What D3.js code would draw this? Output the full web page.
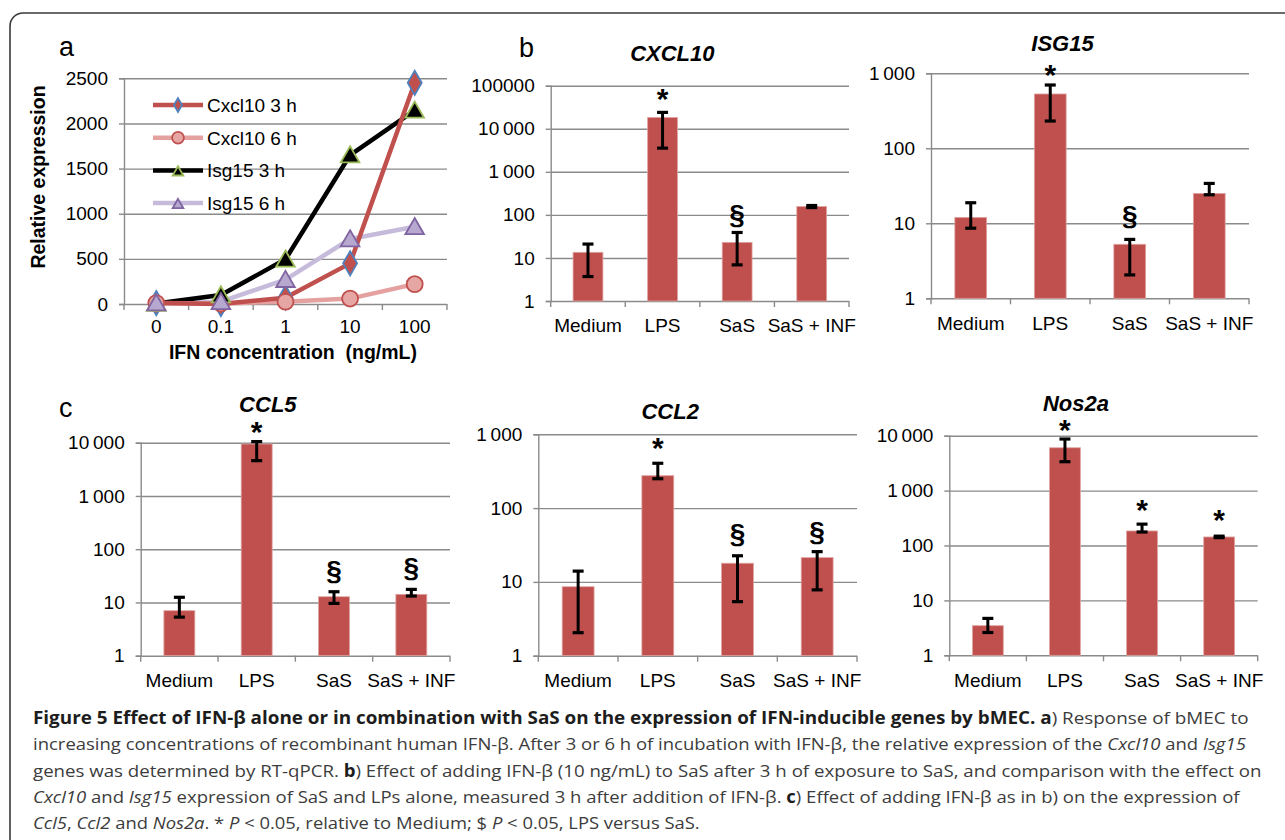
<!DOCTYPE html>
<html>
<head>
<meta charset="utf-8">
<script src="https://cdn.jsdelivr.net/npm/d3@7"></script>
<style>
  body { margin: 0; background: #fff; }
  svg text { font-family: "Liberation Sans", Arial, sans-serif; fill: #000; }
  .caption text { font-family: "Open Sans", "Noto Sans", sans-serif; }
</style>
</head>
<body>
<svg id="fig" width="1285" height="840"></svg>
<script>
// ---- panel a: relative expression vs IFN concentration
const doses = ["0", "0.1", "1", "10", "100"];
const cxcl10_3h = [10, 0, 70, 450, 2450];
const cxcl10_6h = [10, 5, 25, 60, 220];
const isg15_3h = [5, 100, 495, 1650, 2145];
const isg15_6h = [10, 25, 270, 720, 855];
const seriesNames = ["Cxcl10 3 h", "Cxcl10 6 h", "Isg15 3 h", "Isg15 6 h"];
const relTicks = [0, 500, 1000, 1500, 2000, 2500];

// ---- panels b and c: mean with low / high end of the error bar
const treatments = ["Medium", "LPS", "SaS", "SaS + INF"];

const cxcl10Mean = [13.5, 18300, 23, 156];
const cxcl10Lo = [3.7, 3550, 6.9, 148];
const cxcl10Hi = [21, 24000, 39, 165];
const cxcl10Sig = ["", "*", "§", ""];

const isg15Mean = [12, 530, 5.25, 25];
const isg15Lo = [8.6, 231, 2.05, 24];
const isg15Hi = [18.8, 698, 6.1, 34];
const isg15Sig = ["", "*", "§", ""];

const ccl5Mean = [7, 9450, 12.8, 14.2];
const ccl5Lo = [5.3, 4600, 9.6, 13.2];
const ccl5Hi = [12.5, 10500, 15.9, 17.6];
const ccl5Sig = ["", "*", "§", "§"];

const ccl2Mean = [8.6, 275, 17.9, 21.3];
const ccl2Lo = [2.05, 250, 5.4, 7.8];
const ccl2Hi = [14, 405, 22.6, 25.7];
const ccl2Sig = ["", "*", "§", "§"];

const nos2aMean = [3.46, 6030, 184, 143];
const nos2aLo = [2.6, 3360, 176, 139];
const nos2aHi = [4.7, 8700, 245, 148];
const nos2aSig = ["", "*", "*", "*"];

const ticks1e3 = [1, 10, 100, 1000];
const ticks1e4 = [1, 10, 100, 1000, 10000];
const ticks1e5 = [1, 10, 100, 1000, 10000, 100000];
const labels1e3 = ["1", "10", "100", "1\u2009000"];
const labels1e4 = ["1", "10", "100", "1\u2009000", "10\u2009000"];
const labels1e5 = ["1", "10", "100", "1\u2009000", "10\u2009000", "100000"];

const svg = d3.select("#fig");
const gridColor = "#8a8a8a";
const barColor = "#c0504d";

// frame round the figure
svg.append("rect")
  .attr("x", 10).attr("y", 13).attr("width", 1320).attr("height", 900)
  .attr("rx", 13).attr("fill", "none").attr("stroke", "#3a3a3a").attr("stroke-width", 1.6);

// ================= panel a =================
const a = { left: 124, right: 447, top: 78.3, bottom: 304 };
const ga = svg.append("g");
const xa = d3.scaleBand().domain(doses).range([a.left, a.right]);
const ya = d3.scaleLinear().domain([0, 2500]).range([a.bottom, a.top]);

ga.append("g")
  .attr("transform", `translate(${a.left},0)`)
  .call(d3.axisLeft(ya).tickValues(relTicks).tickSize(-(a.right - a.left)).tickFormat(""))
  .call(g => g.select(".domain").remove())
  .call(g => g.selectAll("line").attr("stroke", gridColor).attr("stroke-width", 1.4));

ga.append("g")
  .attr("transform", `translate(${a.left},0)`)
  .call(d3.axisLeft(ya).tickValues(relTicks).tickSize(5).tickPadding(11).tickFormat(d3.format("d")))
  .call(g => g.select(".domain").attr("stroke", gridColor).attr("stroke-width", 1.4))
  .call(g => g.selectAll("line").attr("stroke", gridColor).attr("stroke-width", 1.4))
  .call(g => g.selectAll("text").attr("font-size", 19).attr("font-family", "Liberation Sans, Arial"));

// x axis ticks at band edges
const aEdges = doses.map(d => xa(d)).concat([a.right]);
ga.selectAll(".xtick").data(aEdges).join("line")
  .attr("x1", d => d).attr("x2", d => d)
  .attr("y1", a.bottom).attr("y2", a.bottom + 6)
  .attr("stroke", gridColor).attr("stroke-width", 1.4);

ga.append("g")
  .attr("transform", `translate(0,${a.bottom})`)
  .call(d3.axisBottom(xa).tickSize(0).tickPadding(16))
  .call(g => g.select(".domain").remove())
  .call(g => g.selectAll("text").attr("font-size", 19).attr("font-family", "Liberation Sans, Arial"));

ga.append("text")
  .attr("transform", "translate(45,177) rotate(-90)")
  .attr("text-anchor", "middle").attr("font-size", 19.5).attr("font-weight", "bold")
  .text("Relative expression");

ga.append("text")
  .attr("x", 293).attr("y", 359)
  .attr("text-anchor", "middle").attr("font-size", 19.5).attr("font-weight", "bold")
  .attr("xml:space", "preserve")
  .text("IFN concentration  (ng/mL)");

ga.append("text").attr("x", 59).attr("y", 56).attr("font-size", 27).text("a");

const aSeries = [
  { name: seriesNames[0], values: cxcl10_3h, line: "#c0504d", fill: "#c0504d", edge: "#4f81bd", shape: "diamond" },
  { name: seriesNames[1], values: cxcl10_6h, line: "#e4a19f", fill: "#e6a6a4", edge: "#c0504d", shape: "circle" },
  { name: seriesNames[2], values: isg15_3h, line: "#000000", fill: "#000000", edge: "#9bbb59", shape: "triangle" },
  { name: seriesNames[3], values: isg15_6h, line: "#c6bbdb", fill: "#b7a8cf", edge: "#8064a2", shape: "triangle" }
];

const shapeOf = { diamond: d3.symbolDiamond, circle: d3.symbolCircle, triangle: d3.symbolTriangle };
const lineGen = d3.line()
  .x((d, i) => xa(doses[i]) + xa.bandwidth() / 2)
  .y(d => ya(d));

aSeries.slice().reverse().forEach(s => {
  ga.append("path").datum(s.values)
    .attr("d", lineGen).attr("fill", "none")
    .attr("stroke", s.line).attr("stroke-width", 4.5).attr("stroke-linejoin", "round");
});

function drawMarker(g, s, x, y, big) {
  let size = s.shape === "circle" ? (big ? 200 : 110) : s.shape === "diamond" ? (big ? 170 : 55) : (big ? 150 : 50);
  g.append("path")
    .attr("d", d3.symbol().type(shapeOf[s.shape]).size(size))
    .attr("transform", `translate(${x},${y + (s.shape === "triangle" ? 2 : 0)})`)
    .attr("fill", s.fill).attr("stroke", s.edge).attr("stroke-width", 1.8);
}

aSeries.forEach(s => {
  s.values.forEach((v, i) => drawMarker(ga, s, xa(doses[i]) + xa.bandwidth() / 2, ya(v), true));
});

// legend
const legTop = 105, legStep = 32.7;
aSeries.forEach((s, i) => {
  let ly = legTop + i * legStep;
  ga.append("line").attr("x1", 153).attr("x2", 203).attr("y1", ly).attr("y2", ly)
    .attr("stroke", s.line).attr("stroke-width", 4.5);
  drawMarker(ga, s, 178, ly, false);
  ga.append("text").attr("x", 207).attr("y", ly + 7).attr("font-size", 19).text(s.name);
});

// ================= bar panels =================
function barPanel(p) {
  const g = svg.append("g");
  const x = d3.scaleBand().domain(treatments).range([p.left, p.right]);
  const y = d3.scaleLog().domain([1, p.ticks[p.ticks.length - 1]]).range([p.bottom, p.top]);
  const bw = x.bandwidth() * 0.4;

  g.append("g")
    .attr("transform", `translate(${p.left},0)`)
    .call(d3.axisLeft(y).tickValues(p.ticks).tickSize(-(p.right - p.left)).tickFormat(""))
    .call(gg => gg.select(".domain").remove())
    .call(gg => gg.selectAll("line").attr("stroke", gridColor).attr("stroke-width", 1.4));

  g.append("g")
    .attr("transform", `translate(${p.left},0)`)
    .call(d3.axisLeft(y).tickValues(p.ticks).tickSize(5).tickPadding(11)
      .tickFormat((d, i) => p.labels[i]))
    .call(gg => gg.select(".domain").attr("stroke", gridColor).attr("stroke-width", 1.4))
    .call(gg => gg.selectAll("line").attr("stroke", gridColor).attr("stroke-width", 1.4))
    .call(gg => gg.selectAll("text").attr("font-size", 19).attr("font-family", "Liberation Sans, Arial"));

  const edges = treatments.map(d => x(d)).concat([p.right]);
  g.selectAll(".xtick").data(edges).join("line")
    .attr("x1", d => d).attr("x2", d => d)
    .attr("y1", p.bottom).attr("y2", p.bottom + 6)
    .attr("stroke", gridColor).attr("stroke-width", 1.4);

  g.append("g")
    .attr("transform", `translate(0,${p.bottom})`)
    .call(d3.axisBottom(x).tickSize(0).tickPadding(18))
    .call(gg => gg.select(".domain").remove())
    .call(gg => gg.selectAll("text").attr("font-size", 19).attr("font-family", "Liberation Sans, Arial"));

  g.selectAll(".bar").data(p.mean).join("rect")
    .attr("x", (d, i) => x(treatments[i]) + (x.bandwidth() - bw) / 2)
    .attr("width", bw)
    .attr("y", d => y(d))
    .attr("height", d => p.bottom - y(d))
    .attr("fill", barColor).attr("stroke", "#dfa3a1").attr("stroke-width", 0.8);

  p.mean.forEach((m, i) => {
    let cx = x(treatments[i]) + x.bandwidth() / 2;
    let y1 = y(p.hi[i]), y2 = y(p.lo[i]);
    g.append("line").attr("x1", cx).attr("x2", cx).attr("y1", y1).attr("y2", y2)
      .attr("stroke", "#000").attr("stroke-width", 3);
    [y1, y2].forEach(yy => {
      g.append("line").attr("x1", cx - 5.5).attr("x2", cx + 5.5).attr("y1", yy).attr("y2", yy)
        .attr("stroke", "#000").attr("stroke-width", 3.2);
    });
    let s = p.sig[i];
    if (s) {
      let centre = y1 - (p.sigGap ? p.sigGap[i] : 19);
      g.append("text").attr("x", cx).attr("y", centre + (s === "*" ? 15 : 8))
        .attr("text-anchor", "middle").attr("font-weight", "bold")
        .attr("font-size", s === "*" ? 30 : 28).text(s);
    }
  });

  g.append("text")
    .attr("x", (p.left - 55 + p.right) / 2).attr("y", p.titleY)
    .attr("text-anchor", "middle").attr("font-size", 22)
    .attr("font-weight", "bold").attr("font-style", "italic")
    .text(p.title);
}

barPanel({ title: "CXCL10", titleY: 61, left: 550.7, right: 849, top: 85.7, bottom: 301,
  ticks: ticks1e5, labels: labels1e5, mean: cxcl10Mean, lo: cxcl10Lo, hi: cxcl10Hi, sig: cxcl10Sig,
  sigGap: [0, 18, 16, 0] });
barPanel({ title: "ISG15", titleY: 51, left: 931, right: 1249, top: 73.3, bottom: 298.3,
  ticks: ticks1e3, labels: labels1e3, mean: isg15Mean, lo: isg15Lo, hi: isg15Hi, sig: isg15Sig,
  sigGap: [0, 15, 22, 0] });
barPanel({ title: "CCL5", titleY: 412, left: 140.7, right: 450, top: 442.7, bottom: 655.7,
  ticks: ticks1e4, labels: labels1e4, mean: ccl5Mean, lo: ccl5Lo, hi: ccl5Hi, sig: ccl5Sig,
  sigGap: [0, 15, 20, 20] });
barPanel({ title: "CCL2", titleY: 419, left: 538.3, right: 857, top: 434.3, bottom: 655.7,
  ticks: ticks1e3, labels: labels1e3, mean: ccl2Mean, lo: ccl2Lo, hi: ccl2Hi, sig: ccl2Sig,
  sigGap: [0, 20, 21, 19] });
barPanel({ title: "Nos2a", titleY: 411, left: 949.3, right: 1257.7, top: 435.7, bottom: 655.3,
  ticks: ticks1e4, labels: labels1e4, mean: nos2aMean, lo: nos2aLo, hi: nos2aHi, sig: nos2aSig,
  sigGap: [0, 14, 19, 21] });

svg.append("text").attr("x", 519).attr("y", 57).attr("font-size", 27).text("b");
svg.append("text").attr("x", 59).attr("y", 417).attr("font-size", 27).text("c");

// ================= caption =================
const capLines = [
  [["Figure 5 Effect of IFN-β alone or in combination with SaS on the expression of IFN-inducible genes by bMEC. a", "b"], [") Response of bMEC to", ""]],
  [["increasing concentrations of recombinant human IFN-β. After 3 or 6 h of incubation with IFN-β, the relative expression of the ", ""], ["Cxcl10", "i"], [" and ", ""], ["Isg15", "i"]],
  [["genes was determined by RT-qPCR. ", ""], ["b", "b"], [") Effect of adding IFN-β (10 ng/mL) to SaS after 3 h of exposure to SaS, and comparison with the effect on", ""]],
  [["Cxcl10", "i"], [" and ", ""], ["Isg15", "i"], [" expression of SaS and LPs alone, measured 3 h after addition of IFN-β. ", ""], ["c", "b"], [") Effect of adding IFN-β as in b) on the expression of", ""]],
  [["Ccl5", "i"], [", ", ""], ["Ccl2", "i"], [" and ", ""], ["Nos2a", "i"], [". * ", ""], ["P", "i"], [" < 0.05, relative to Medium; $ ", ""], ["P", "i"], [" < 0.05, LPS versus SaS.", ""]]
];
const capRight = [1250, 1246, 1262, 1240, 700];
const capX = 33, capY0 = 724, capStep = 26.3;

const cap = svg.append("g").attr("class", "caption");
capLines.forEach((segs, li) => {
  const t = cap.append("text")
    .attr("font-size", 17).attr("xml:space", "preserve")
    .attr("transform", `translate(${capX},${capY0 + li * capStep})`);
  segs.forEach(([txt, st]) => {
    t.append("tspan").text(txt)
      .attr("font-weight", st === "b" ? "bold" : "normal")
      .attr("font-style", st === "i" ? "italic" : "normal")
      .style("fill", st === "b" ? "#1d1d1d" : "#3c3c3c");
  });
  const w = t.node().getComputedTextLength();
  const k = (capRight[li] - capX) / w;
  t.attr("transform", `translate(${capX},${capY0 + li * capStep}) scale(${k},1)`);
});
</script>
</body>
</html>
